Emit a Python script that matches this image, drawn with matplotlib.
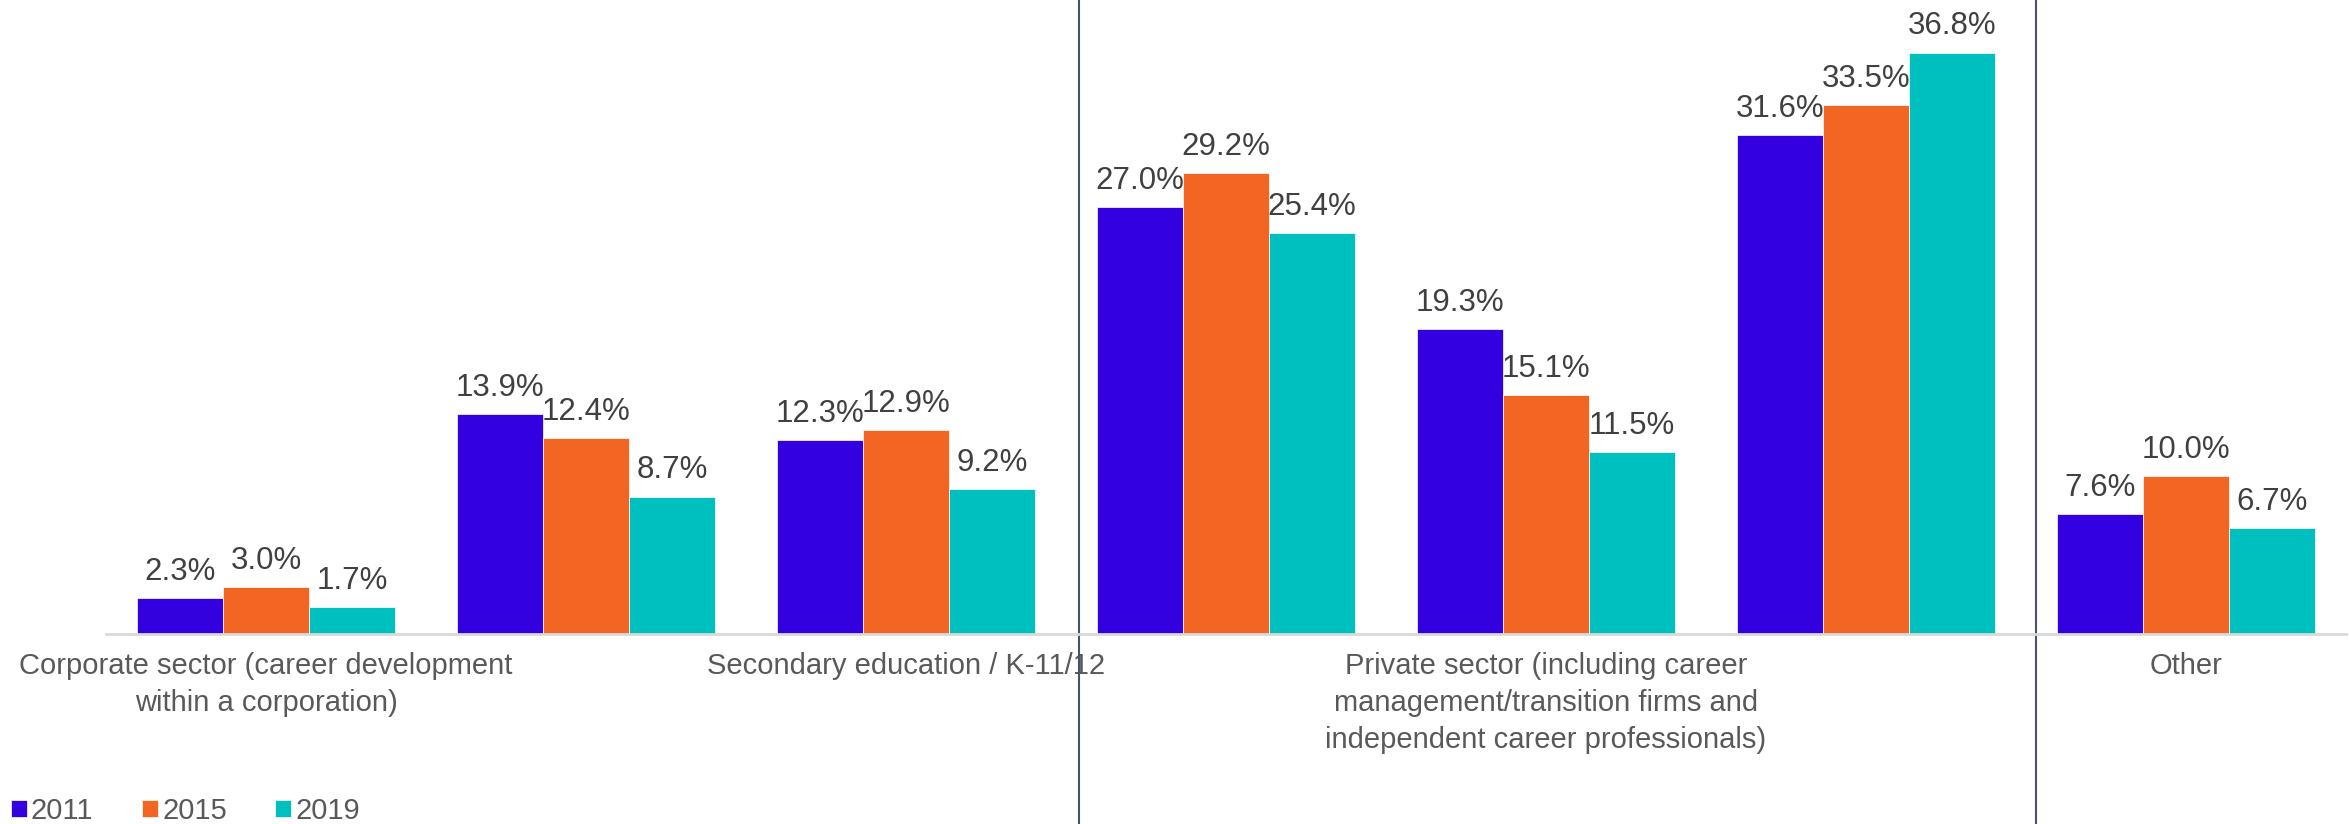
import matplotlib
matplotlib.use("Agg")

import numpy as np
import matplotlib.pyplot as plt

plt.rcParams["font.family"] = ["Liberation Sans", "DejaVu Sans"]

# Share of respondents by work setting, per survey year
categories = [
    "Corporate sector (career development\nwithin a corporation)",
    "",
    "Secondary education / K-11/12",
    "",
    "Private sector (including career\nmanagement/transition firms and\nindependent career professionals)",
    "",
    "Other",
]
years = ["2011", "2015", "2019"]
pct_2011 = [2.3, 13.9, 12.3, 27.0, 19.3, 31.6, 7.6]
pct_2015 = [3.0, 12.4, 12.9, 29.2, 15.1, 33.5, 10.0]
pct_2019 = [1.7, 8.7, 9.2, 25.4, 11.5, 36.8, 6.7]
colors = ["#3300E0", "#F26522", "#00BFBF"]

# dividers between the groups of settings
dividers = [2.54, 5.53]

fig = plt.figure(figsize=(23.49, 8.24), dpi=100)
ax = fig.add_axes([0.0451, 0.2306, 0.9536, 0.767])

x = np.arange(len(categories))
w = 0.269
series = [pct_2011, pct_2015, pct_2019]
for j, (vals, year, col) in enumerate(zip(series, years, colors)):
    bars = ax.bar(x + (j - 1) * w, vals, width=w, color=col, label=year,
                  edgecolor="white", linewidth=0.5)
    for b, v in zip(bars, vals):
        ax.annotate(f"{v:.1f}%", (b.get_x() + b.get_width() / 2, v),
                    xytext=(0, 13), textcoords="offset points",
                    ha="center", va="baseline", fontsize=22.5, color="#404040")

ax.set_xlim(-0.5, len(categories) - 0.5)
ax.set_ylim(0, 40)
ax.set_xticks(x)
ax.set_xticklabels(categories, fontsize=21, color="#595959", linespacing=1.4)
ax.tick_params(axis="x", length=0, pad=13)
ax.set_yticks([])

for side in ["top", "right", "left"]:
    ax.spines[side].set_visible(False)
ax.spines["bottom"].set_color("#D9D9D9")
ax.spines["bottom"].set_linewidth(2)

for d in dividers:
    ax.axvline(d, ymin=-0.31, ymax=1.01, color="#44546A", linewidth=1.5, clip_on=False)

fig.legend(loc="lower left", bbox_to_anchor=(0.0045, -0.001), ncol=3, frameon=False,
           fontsize=21, labelcolor="#595959", handlelength=0.55, handleheight=0.55,
           handletextpad=0.15, columnspacing=1.65, borderpad=0, borderaxespad=0)

fig.savefig("out.png", dpi=100)
